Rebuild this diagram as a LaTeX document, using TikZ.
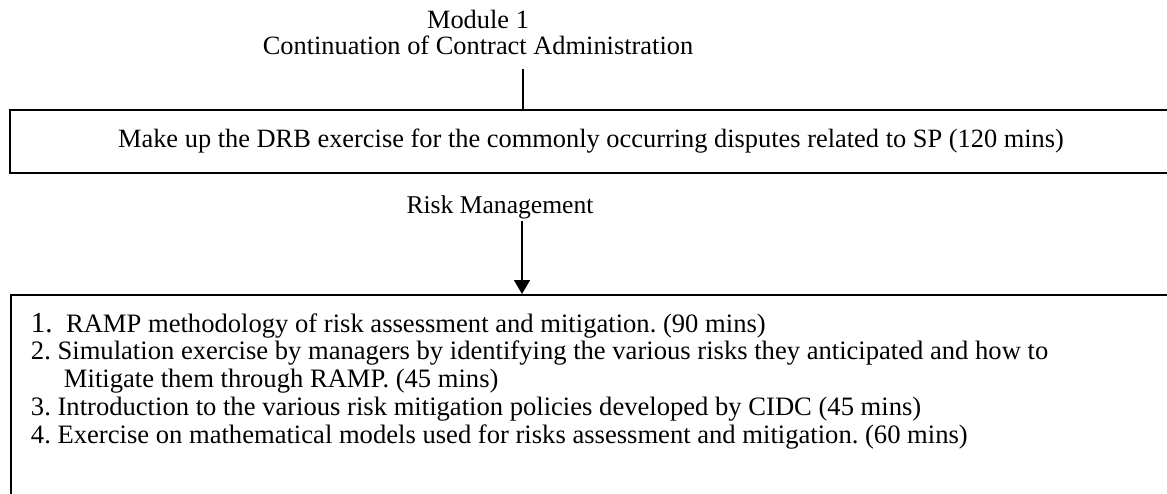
\documentclass[tikz,border=0pt]{standalone}
\usepackage{fontspec}
\setmainfont{Liberation Serif}
\usetikzlibrary{arrows.meta,positioning}

\begin{document}
\frenchspacing
\begin{tikzpicture}[x=0.5pt,y=-0.5pt,>={Triangle[width=8pt,length=7pt]},
    font=\fontsize{13.2}{13.9}\selectfont,
    every node/.style={align=center},
    modbox/.style={draw,line width=1pt,minimum width=581pt,minimum height=31.5pt,inner sep=0pt},
    listbox/.style={draw,line width=1pt,anchor=north west,inner xsep=10pt,inner ysep=9pt},
    link/.style={line width=0.8pt}]
  \useasboundingbox (0,0) rectangle (1167,493);
  \clip (0,0) rectangle (1167,493);
  % heading and first activity
  \node[font=\fontsize{13.2}{13}\selectfont] (module) at (478,32) {Module 1\\Continuation of Contract Administration};
  \node[modbox] (drb) at (591,141.5) {Make up the DRB exercise for the commonly occurring disputes related to SP (120 mins)};
  \coordinate (drbtop) at (523,110);
  \draw[link,shorten <=4pt] (module.south -| drbtop) -- (drbtop);
  % risk management block
  \node[font=\fontsize{12.8}{13}\selectfont,inner ysep=1pt] (risk) at (500,207) {Risk Management};
  \node[listbox,font=\fontsize{13.3}{13.9}\selectfont] (ramp) at (10,294) {%
    \parbox[t][118pt][t]{565pt}{\raggedright
    {\fontsize{14.5}{13.9}\selectfont 1.}\ \ RAMP methodology of risk assessment and mitigation. (90 mins)\\
    2. Simulation exercise by managers by identifying the various risks they anticipated and how to\\
    \hspace*{16.5pt}Mitigate them through RAMP. (45 mins)\\
    3. Introduction to the various risk mitigation policies developed by CIDC (45 mins)\\
    4. Exercise on mathematical models used for risks assessment and mitigation. (60 mins)}};
  \coordinate (ramptop) at (522,294);
  \draw[link,->] (risk.south -| ramptop) -- (ramptop);
\end{tikzpicture}
\end{document}
